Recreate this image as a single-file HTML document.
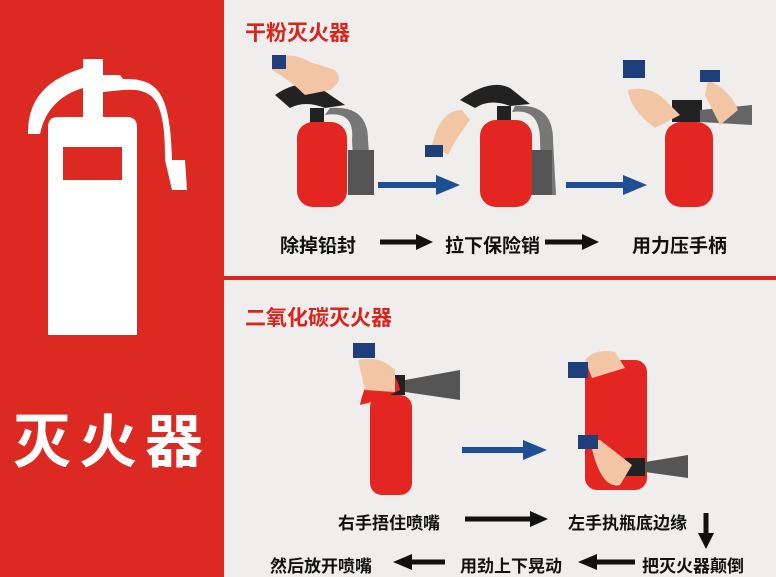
<!DOCTYPE html>
<html><head><meta charset="utf-8"><style>
html,body{margin:0;padding:0;width:776px;height:577px;overflow:hidden;background:#efeeec;font-family:"Liberation Sans","Noto Sans CJK SC",sans-serif}
.t{position:absolute;font-weight:bold;white-space:nowrap;font-family:"Liberation Sans","Noto Sans CJK SC",sans-serif}
</style></head><body>
<svg width="776" height="577" style="position:absolute;left:0;top:0">
<defs>
<marker id="ab" markerWidth="4" markerHeight="4" refX="2" refY="2" orient="auto"><path d="M0,0L4,2L0,4z" fill="#111"/></marker>
</defs>
<rect x="0" y="0" width="224" height="577" fill="#dc2a22"/>
<rect x="224" y="276" width="552" height="4" fill="#d8261f"/>
<!-- left icon -->
<path d="M28,134 C28,100 45,80 83,68 L83,59 L103,59 L103,75 L120,75 L123,79 C160,78 170,95 172,160 L185,160 L187,190 L172,190 L165,160 C165,100 155,88 123,90 L103,92 L103,117 L83,117 L83,88 C60,95 45,110 40,134 Z" fill="#fff"/>
<path d="M48,127 Q48,117 58,117 L127,117 Q137,117 137,127 L137,335 L48,335 Z" fill="#fff"/>
<rect x="63" y="147" width="59" height="33" fill="#dc2a22"/>
<!-- top row extinguishers -->
<g>
<path d="M275,95 Q300,78 320,88 L345,105 L325,108 Q305,100 290,108 Z" fill="#222"/>
<rect x="310" y="108" width="14" height="18" fill="#222"/>
<path d="M325,115 Q355,110 352,140 L355,195 L372,195 L368,140 Q368,105 330,108 Z" fill="#777"/>
<rect x="348" y="150" width="26" height="45" fill="#555"/>
<rect x="297" y="122" width="50" height="85" rx="16" fill="#e42622"/>
<path d="M272,60 Q290,50 310,62 L335,70 Q345,80 330,90 L305,95 Q290,80 272,70 Z" fill="#f2c6a4"/>
<rect x="272" y="55" width="14" height="14" fill="#1e3f7a"/>
</g>
<g>
<path d="M460,100 Q490,78 510,88 L530,104 L510,106 Q490,98 475,108 Z" fill="#222"/>
<rect x="497" y="106" width="14" height="18" fill="#222"/>
<path d="M512,112 Q540,108 540,140 L542,195 L556,195 L553,140 Q553,103 515,106 Z" fill="#777"/>
<rect x="530" y="150" width="22" height="45" fill="#555"/>
<rect x="480" y="120" width="52" height="87" rx="16" fill="#e42622"/>
<path d="M432,145 Q440,110 462,110 L470,120 Q455,140 448,155 Z" fill="#f2c6a4"/>
<rect x="425" y="145" width="18" height="12" fill="#1e3f7a"/>
</g>
<g>
<rect x="672" y="100" width="30" height="22" fill="#222"/>
<path d="M700,110 L752,105 L752,125 L700,122 Z" fill="#666"/>
<rect x="665" y="122" width="48" height="85" rx="16" fill="#e42622"/>
<path d="M628,90 Q650,85 665,100 L680,115 L655,128 Q630,110 628,90 Z" fill="#f2c6a4"/>
<rect x="623" y="60" width="22" height="18" fill="#1e3f7a"/>
<path d="M708,80 Q730,90 738,110 L720,125 L705,95 Z" fill="#f2c6a4"/>
<rect x="700" y="70" width="20" height="12" fill="#1e3f7a"/>
</g>
<!-- bottom extinguishers -->
<g>
<rect x="380" y="375" width="25" height="20" fill="#222"/>
<path d="M405,380 L460,370 L460,400 L405,392 Z" fill="#555"/>
<rect x="370" y="395" width="42" height="100" rx="12" fill="#e42622"/>
<path d="M360,405 Q365,380 375,378 Q395,365 400,390 L380,400 Z" fill="#e42622"/>
<path d="M358,360 Q380,355 395,370 L395,392 L365,390 Z" fill="#f2c6a4"/>
<rect x="353" y="343" width="22" height="15" fill="#1e3f7a"/>
</g>
<g>
<rect x="585" y="360" width="62" height="130" rx="12" fill="#e42622"/>
<rect x="625" y="458" width="20" height="18" fill="#222"/>
<path d="M645,462 L688,455 L688,478 L645,472 Z" fill="#555"/>
<path d="M585,360 Q595,348 615,352 L625,368 L592,378 Z" fill="#f2c6a4"/>
<rect x="568" y="362" width="20" height="16" fill="#1e3f7a"/>
<path d="M590,440 Q600,490 620,485 L632,465 L600,440 Z" fill="#f2c6a4"/>
<rect x="578" y="435" width="20" height="14" fill="#1e3f7a"/>
</g>
<!-- blue arrows -->
<path d="M378,185 L438,185" stroke="#1e4e96" stroke-width="6"/><path d="M436,175 L460,185 L436,195 Z" fill="#1e4e96"/>
<path d="M566,185 L625,185" stroke="#1e4e96" stroke-width="6"/><path d="M623,175 L647,185 L623,195 Z" fill="#1e4e96"/>
<path d="M462,450 L525,450" stroke="#1e4e96" stroke-width="6"/><path d="M523,440 L547,450 L523,460 Z" fill="#1e4e96"/>
<!-- black arrows -->
<g stroke="#111" stroke-width="5" fill="#111">
<line x1="380" y1="242" x2="418" y2="242"/><line x1="545" y1="242" x2="584" y2="242"/>
<line x1="465" y1="519" x2="532" y2="519"/><line x1="706" y1="513" x2="706" y2="535"/>
<line x1="445" y1="562" x2="410" y2="562"/><line x1="635" y1="562" x2="595" y2="562"/>
</g>
<g fill="#111">
<path d="M416,234 L433,242 L416,250Z"/><path d="M582,234 L599,242 L582,250Z"/>
<path d="M530,511 L548,519 L530,527Z"/><path d="M698,533 L706,549 L714,533Z"/>
<path d="M412,554 L393,562 L412,570Z"/><path d="M597,554 L578,562 L597,570Z"/>
</g>
</svg>
<div class="t" style="left:13px;top:395px;font-size:58px;color:#fff;letter-spacing:8px">灭火器</div>
<div class="t" style="left:245px;top:17px;font-size:21px;color:#d8261f">干粉灭火器</div>
<div class="t" style="left:245px;top:302px;font-size:21px;color:#d8261f">二氧化碳灭火器</div>
<div class="t" style="left:280px;top:231px;font-size:19px;color:#111">除掉铅封</div>
<div class="t" style="left:445px;top:231px;font-size:19px;color:#111">拉下保险销</div>
<div class="t" style="left:632px;top:231px;font-size:19px;color:#111">用力压手柄</div>
<div class="t" style="left:338px;top:509px;font-size:17px;color:#111">右手捂住喷嘴</div>
<div class="t" style="left:568px;top:509px;font-size:17px;color:#111">左手执瓶底边缘</div>
<div class="t" style="left:270px;top:552px;font-size:17px;color:#111">然后放开喷嘴</div>
<div class="t" style="left:460px;top:552px;font-size:17px;color:#111">用劲上下晃动</div>
<div class="t" style="left:642px;top:552px;font-size:17px;color:#111">把灭火器颠倒</div>
</body></html>
